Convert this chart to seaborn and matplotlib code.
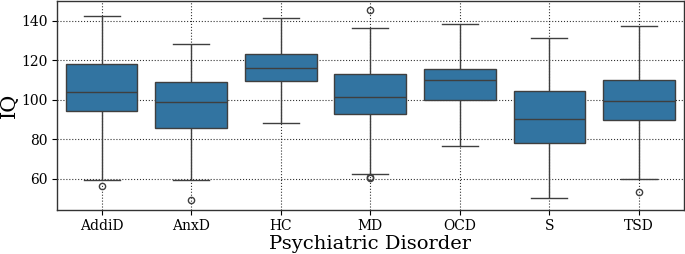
import matplotlib
matplotlib.use("Agg")
import matplotlib.pyplot as plt
import seaborn as sns
import pandas as pd

categories = ["AddiD", "AnxD", "HC", "MD", "OCD", "S", "TSD"]

# IQ samples per group (chosen to reproduce the quartiles, whiskers and outliers)
addid = [56.2, 59.2, 94.3, 98.0, 103.7, 110.0, 118.0, 130.0, 142.2]
anxd = [49.2, 59.2, 85.4, 92.0, 99.0, 104.0, 108.9, 118.0, 128.3]
hc = [88.2, 109.2, 116.2, 123.3, 141.2]
md = [60.2, 60.9, 62.3, 92.5, 96.0, 99.0, 101.1, 105.0, 109.0, 113.1, 125.0, 136.1, 145.2]
ocd = [76.4, 99.7, 110.1, 115.4, 138.1]
s = [50.2, 78.2, 90.3, 104.2, 131.1]
tsd = [53.2, 60.0, 89.9, 95.0, 99.2, 104.0, 110.1, 120.0, 137.1]

groups = [addid, anxd, hc, md, ocd, s, tsd]
df = pd.DataFrame({
    "Psychiatric Disorder": [c for c, g in zip(categories, groups) for _ in g],
    "IQ": [v for g in groups for v in g],
})

plt.rcParams["font.family"] = ["DejaVu Serif"]

fig = plt.figure(figsize=(6.85, 2.54), dpi=100)
ax = fig.add_axes([0.083, 0.175, 0.915, 0.822])
sns.boxplot(data=df, x="Psychiatric Disorder", y="IQ", order=categories,
            color="C0", ax=ax, fliersize=4.5)
ax.grid(True, color="black", linestyle=":", linewidth=0.8, alpha=0.8)
ax.set_axisbelow(True)
ax.set_yticks([60, 80, 100, 120, 140])
ax.tick_params(axis="both", labelsize=10, pad=3)
ax.set_xlabel("Psychiatric Disorder", fontsize=14, labelpad=2)
ax.set_ylabel("IQ", fontsize=15, labelpad=2)
for sp in ax.spines.values():
    sp.set_color("#333333")
    sp.set_linewidth(1.0)

fig.savefig("out.png", dpi=100)
